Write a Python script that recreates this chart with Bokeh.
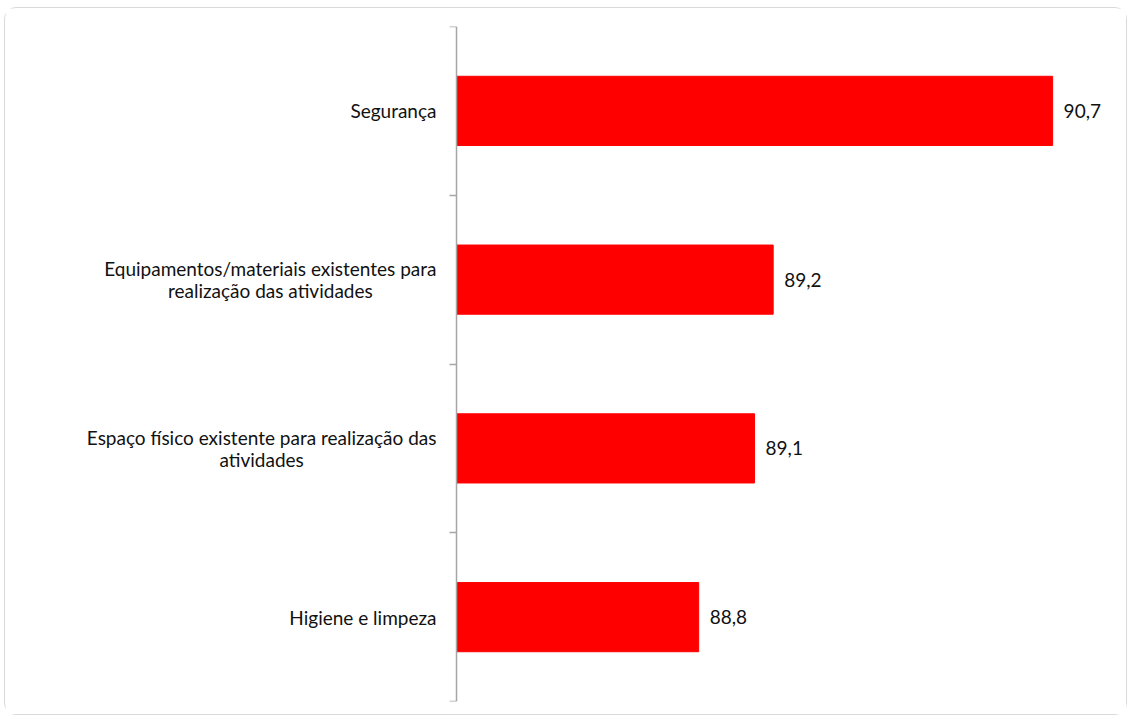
from bokeh.plotting import figure
from bokeh.models import Range1d, FixedTicker, ColumnDataSource, LinearAxis
from bokeh.core.properties import value
from bokeh.embed import file_html
from bokeh.resources import INLINE

categories = [
    "Segurança",
    "Equipamentos/materiais existentes para\nrealização das atividades",
    "Espaço físico existente para realização das\natividades",
    "Higiene e limpeza",
]
values = [90.7, 89.2, 89.1, 88.8]
value_labels = ["90,7", "89,2", "89,1", "88,8"]

x_min, x_max = 87.5, 91.0

# layout (pixels inside the figure)
W, H = 1123, 708
frame_left, frame_right = 30, 1103
axis_px = 451
x_start = x_min - (x_max - x_min) * (axis_px - frame_left) / (frame_right - axis_px)

n = len(categories)
ypos = [n - i - 0.5 for i in range(n)]

src = ColumnDataSource(dict(y=ypos, v=values, cat=categories, lab=value_labels,
                            base=[x_min] * n))

p = figure(width=W, height=H, output_backend="svg", toolbar_location=None,
           x_range=Range1d(x_start, x_max), y_range=Range1d(0, n),
           y_axis_location=None, x_axis_location=None,
           min_border_left=frame_left, min_border_top=18, min_border_bottom=15,
           min_border_right=W - frame_right)
p.styles = {"border": "1px solid #d9d9d9", "border-radius": "12px",
            "margin-left": "4px", "margin-top": "7px"}
p.outline_line_color = None
p.xgrid.visible = False
p.ygrid.visible = False

yax = LinearAxis(fixed_location=x_min, ticker=FixedTicker(ticks=list(range(n + 1))))
yax.major_label_overrides = {i: "" for i in range(n + 1)}
yax.axis_line_color = "#a6a6a6"
yax.axis_line_width = 1.5
yax.major_tick_line_color = "#a6a6a6"
yax.major_tick_line_width = 1.5
yax.major_tick_out = 7
yax.major_tick_in = 0
yax.minor_tick_line_color = None
p.add_layout(yax, "left")

p.hbar(y="y", left="base", right="v", height=0.41, source=src,
       fill_color="#ff0000", line_color="#ff0000")

p.text(x="base", y="y", text="cat", source=src, x_offset=-20,
       anchor=value("center_right"), text_align="center", text_baseline="middle",
       text_font=value("Lato"), text_font_size="19px", text_color="#111111",
       text_line_height=0.93)

p.text(x="v", y="y", text="lab", source=src, x_offset=11,
       text_align="left", text_baseline="middle",
       text_font=value("Lato"), text_font_size="19px", text_color="#111111")

open("out.html", "w").write(file_html(p, INLINE))
